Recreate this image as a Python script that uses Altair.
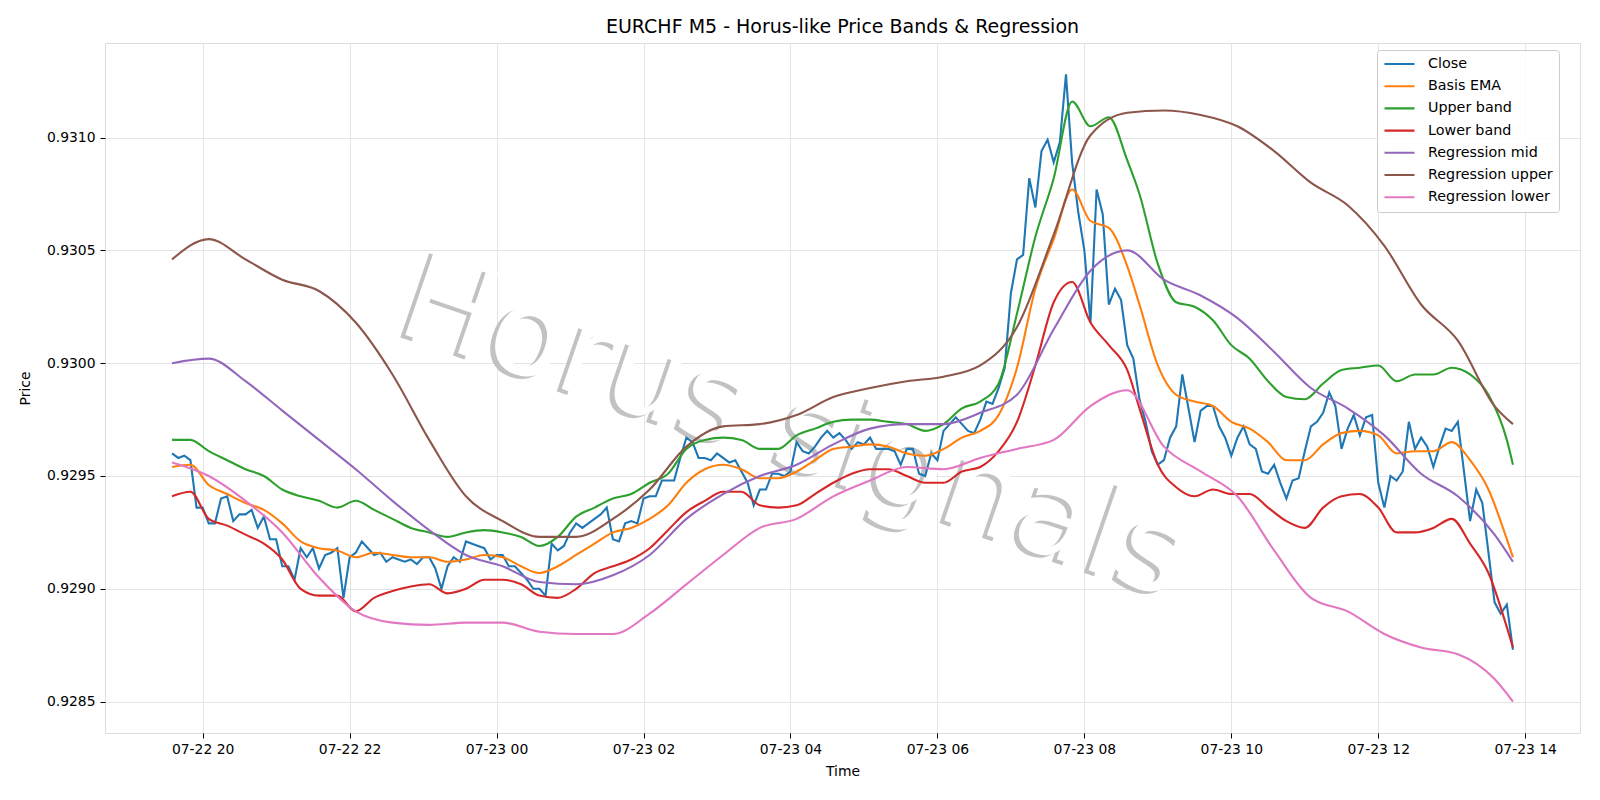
import altair as alt
import pandas as pd

TITLE = "EURCHF M5 - Horus-like Price Bands & Regression"
X_TITLE = "Time"
Y_TITLE = "Price"
WATERMARK = "Horus signals"
START = "2025-07-22 19:35"
STEP_MINUTES = 5

SERIES = ["Close", "Basis EMA", "Upper band", "Lower band",
          "Regression mid", "Regression upper", "Regression lower"]
COLORS = ["#1f77b4", "#ff7f0e", "#2ca02c", "#d62728",
          "#9467bd", "#8c564b", "#e377c2"]

Y_TICKS = [0.9285, 0.9290, 0.9295, 0.9300, 0.9305, 0.9310]
X_TICKS = ["2025-07-22 20:00", "2025-07-22 22:00", "2025-07-23 00:00",
           "2025-07-23 02:00", "2025-07-23 04:00", "2025-07-23 06:00",
           "2025-07-23 08:00", "2025-07-23 10:00", "2025-07-23 12:00",
           "2025-07-23 14:00"]

# Close: one value every 5 minutes (index 0 .. 219)
close = [
    0.92960, 0.92958, 0.92959, 0.92957, 0.92936, 0.92936, 0.92929, 0.92929, 0.92940, 0.92941, 0.92930, 0.92933,
    0.92933, 0.92935, 0.92927, 0.92932, 0.92922, 0.92922, 0.92910, 0.92910, 0.92904, 0.92918, 0.92914, 0.92918,
    0.92909, 0.92915, 0.92916, 0.92918, 0.92896, 0.92914, 0.92916, 0.92921, 0.92918, 0.92915, 0.92916, 0.92912,
    0.92914, 0.92913, 0.92912, 0.92913, 0.92911, 0.92914, 0.92914, 0.92909, 0.92900, 0.92910, 0.92914, 0.92912,
    0.92921, 0.92920, 0.92919, 0.92918, 0.92913, 0.92915, 0.92915, 0.92910, 0.92910, 0.92907, 0.92904, 0.92900,
    0.92900, 0.92897, 0.92920, 0.92917, 0.92919, 0.92925, 0.92929, 0.92927, 0.92929, 0.92931, 0.92933, 0.92936,
    0.92922, 0.92921, 0.92929, 0.92930, 0.92929, 0.92940, 0.92941, 0.92941, 0.92948, 0.92948, 0.92948, 0.92958,
    0.92967, 0.92965, 0.92958, 0.92958, 0.92957, 0.92960, 0.92958, 0.92956, 0.92957, 0.92952, 0.92947, 0.92937,
    0.92944, 0.92944, 0.92951, 0.92951, 0.92950, 0.92952, 0.92965, 0.92961, 0.92960, 0.92963, 0.92967, 0.92970,
    0.92967, 0.92969, 0.92966, 0.92962, 0.92965, 0.92964, 0.92967, 0.92962, 0.92962, 0.92962, 0.92961, 0.92955,
    0.92962, 0.92962, 0.92951, 0.92950, 0.92960, 0.92957, 0.92970, 0.92973, 0.92976, 0.92973, 0.92970, 0.92969,
    0.92975, 0.92983, 0.92982, 0.92989, 0.92998, 0.93031, 0.93046, 0.93048, 0.93082, 0.93069, 0.93094, 0.93099,
    0.93089, 0.93098, 0.93128, 0.93089, 0.93067, 0.93050, 0.93018, 0.93077, 0.93066, 0.93026, 0.93033, 0.93028,
    0.93008, 0.93002, 0.92984, 0.92974, 0.92961, 0.92955, 0.92957, 0.92967, 0.92972, 0.92995, 0.92980, 0.92965,
    0.92979, 0.92981, 0.92981, 0.92972, 0.92967, 0.92959, 0.92967, 0.92972, 0.92964, 0.92962, 0.92952, 0.92951,
    0.92955, 0.92947, 0.92940, 0.92948, 0.92949, 0.92961, 0.92972, 0.92974, 0.92978, 0.92987, 0.92981, 0.92962,
    0.92971, 0.92977, 0.92968, 0.92976, 0.92977, 0.92947, 0.92936, 0.92950, 0.92948, 0.92952, 0.92974, 0.92962,
    0.92967, 0.92963, 0.92954, 0.92963, 0.92971, 0.92970, 0.92974, 0.92952, 0.92930, 0.92944, 0.92938, 0.92916,
    0.92894, 0.92889, 0.92893, 0.92873,
]

# Bands: read every 15 minutes (bar index of each reading)
band_idx = list(range(0, 157, 3)) + list(range(158, 219, 3)) + [219]

ema = [
    0.92954, 0.92955, 0.92946, 0.92942, 0.92938, 0.92935, 0.92929, 0.92921, 0.92918, 0.92917, 0.92914, 0.92916, 0.92915,
    0.92914, 0.92914, 0.92912, 0.92913, 0.92915, 0.92914, 0.92910, 0.92907, 0.92910, 0.92915, 0.92920, 0.92925, 0.92927,
    0.92931, 0.92937, 0.92947, 0.92953, 0.92955, 0.92953, 0.92949, 0.92949, 0.92952, 0.92957, 0.92962, 0.92963, 0.92964,
    0.92963, 0.92960, 0.92959, 0.92962, 0.92967, 0.92970, 0.92977, 0.92998, 0.93033, 0.93055, 0.93077, 0.93063, 0.93060, 0.93043,
    0.93026, 0.92999, 0.92986, 0.92983, 0.92981, 0.92974, 0.92971, 0.92965, 0.92957, 0.92957, 0.92964, 0.92969, 0.92970,
    0.92968, 0.92960, 0.92961, 0.92961, 0.92965, 0.92957, 0.92944, 0.92922,
    0.92914,
]

upper = [
    0.92966, 0.92966, 0.92961, 0.92957, 0.92953, 0.92950, 0.92944, 0.92941, 0.92939, 0.92936, 0.92939, 0.92935, 0.92931,
    0.92927, 0.92925, 0.92923, 0.92925, 0.92926, 0.92925, 0.92923, 0.92919, 0.92923, 0.92932, 0.92936, 0.92940, 0.92942,
    0.92947, 0.92951, 0.92962, 0.92966, 0.92967, 0.92966, 0.92962, 0.92962, 0.92968, 0.92971, 0.92974, 0.92975, 0.92975,
    0.92974, 0.92973, 0.92970, 0.92973, 0.92980, 0.92983, 0.92991, 0.93022, 0.93056, 0.93082, 0.93116, 0.93105, 0.93109, 0.93090,
    0.93075, 0.93044, 0.93027, 0.93025, 0.93019, 0.93008, 0.93002, 0.92992, 0.92985, 0.92984, 0.92991, 0.92997, 0.92998,
    0.92999, 0.92992, 0.92995, 0.92995, 0.92998, 0.92995, 0.92986, 0.92966,
    0.92955,
]

lower = [
    0.92941, 0.92943, 0.92931, 0.92928, 0.92924, 0.92920, 0.92913, 0.92900, 0.92897, 0.92897, 0.92890, 0.92896, 0.92899,
    0.92901, 0.92902, 0.92898, 0.92900, 0.92904, 0.92904, 0.92902, 0.92897, 0.92896, 0.92900, 0.92907, 0.92910, 0.92913,
    0.92918, 0.92926, 0.92934, 0.92939, 0.92943, 0.92943, 0.92937, 0.92936, 0.92937, 0.92942, 0.92947, 0.92951, 0.92953,
    0.92953, 0.92950, 0.92947, 0.92947, 0.92952, 0.92954, 0.92961, 0.92974, 0.92999, 0.93027, 0.93036, 0.93018, 0.93008, 0.92997,
    0.92980, 0.92955, 0.92945, 0.92941, 0.92944, 0.92942, 0.92942, 0.92936, 0.92930, 0.92927, 0.92936, 0.92941, 0.92942,
    0.92936, 0.92925, 0.92925, 0.92927, 0.92931, 0.92920, 0.92907, 0.92883,
    0.92874,
]

# Regression lines: read every 30 minutes
reg_idx = list(range(0, 217, 6)) + [219]

reg_mid = [
    0.93000, 0.93002, 0.92992, 0.92979, 0.92966, 0.92953, 0.92939,
    0.92926, 0.92915, 0.92910, 0.92903, 0.92902, 0.92906,
    0.92915, 0.92931, 0.92942, 0.92950, 0.92955, 0.92964, 0.92971,
    0.92973, 0.92973, 0.92978, 0.92986, 0.93015, 0.93041, 0.93050,
    0.93037, 0.93030, 0.93020, 0.93005, 0.92989, 0.92980,
    0.92968, 0.92951, 0.92941, 0.92924, 0.92912,
]

reg_up = [
    0.93046, 0.93055, 0.93046, 0.93037, 0.93032, 0.93018, 0.92995,
    0.92966, 0.92941, 0.92930, 0.92923, 0.92923, 0.92931,
    0.92944, 0.92963, 0.92972, 0.92973, 0.92977, 0.92985, 0.92989,
    0.92992, 0.92994, 0.92999, 0.93016, 0.93057, 0.93101, 0.93111,
    0.93112, 0.93110, 0.93105, 0.93094, 0.93080, 0.93070,
    0.93052, 0.93026, 0.93010, 0.92981, 0.92973,
]

reg_lo = [
    0.92956, 0.92950, 0.92939, 0.92925, 0.92905, 0.92890, 0.92885,
    0.92884, 0.92885, 0.92885, 0.92881, 0.92880, 0.92880,
    0.92889, 0.92902, 0.92915, 0.92927, 0.92931, 0.92941, 0.92948,
    0.92954, 0.92953, 0.92958, 0.92962, 0.92966, 0.92981, 0.92988,
    0.92963, 0.92952, 0.92941, 0.92917, 0.92896, 0.92890,
    0.92880, 0.92874, 0.92871, 0.92860, 0.92850,
]

# ---------------------------------------------------------------------------
t0 = pd.Timestamp(START, tz="UTC")


def stamp(i):
    return (t0 + pd.Timedelta(minutes=STEP_MINUTES * i)).strftime("%Y-%m-%dT%H:%M:%SZ")


def ms(t):
    return int(t.timestamp() * 1000)


parts = [
    ("Close", list(range(len(close))), close),
    ("Basis EMA", band_idx, ema),
    ("Upper band", band_idx, upper),
    ("Lower band", band_idx, lower),
    ("Regression mid", reg_idx, reg_mid),
    ("Regression upper", reg_idx, reg_up),
    ("Regression lower", reg_idx, reg_lo),
]
rows = []
for name, idx, vals in parts:
    assert len(idx) == len(vals), (name, len(idx), len(vals))
    for i, v in zip(idx, vals):
        rows.append({"series": name, "time": stamp(i), "price": v})
df = pd.DataFrame(rows)

# matplotlib-like 5% margins
span_min = STEP_MINUTES * (len(close) - 1)
margin = pd.Timedelta(minutes=0.05 * span_min)
x_dom = [ms(t0 - margin), ms(t0 + pd.Timedelta(minutes=span_min) + margin)]
y_min, y_max = df["price"].min(), df["price"].max()
y_pad = 0.05 * (y_max - y_min)
y_dom = [y_min - y_pad, y_max + y_pad]

W, H = 1475, 690
FONT = "DejaVu Sans"
axis_common = dict(
    labelFont=FONT, labelFontSize=13.9, labelColor="black",
    titleFont=FONT, titleFontSize=13.9, titleFontWeight="normal", titleColor="black",
    tickColor="black", tickSize=5, tickWidth=1,
    gridColor="#e4e4e4", gridWidth=1, domain=False,
    labelOverlap=False, labelFlush=False,
)
x_axis = alt.Axis(values=[ms(pd.Timestamp(t, tz="UTC")) for t in X_TICKS],
                  labelExpr="utcFormat(datum.value, '%m-%d %H')",
                  labelPadding=4, titlePadding=9, **axis_common)
y_axis = alt.Axis(values=Y_TICKS, format=".4f", labelPadding=5,
                  titlePadding=14, **axis_common)

legend = alt.Legend(
    title=None, orient="none", legendX=1272, legendY=7,
    symbolType="stroke", symbolSize=900, symbolStrokeWidth=2.1,
    labelFont=FONT, labelFontSize=14.3, labelColor="black", labelOffset=12,
    labelExpr="datum.label + '\u00a0\u00a0\u00a0'",
    rowPadding=6.2, clipHeight=16, padding=6,
    strokeColor="#cccccc", fillColor="rgba(255,255,255,0.85)", cornerRadius=3,
)

base = alt.Chart(df).mark_line(strokeWidth=2.1).encode(
    x=alt.X("time:T", title=X_TITLE,
            scale=alt.Scale(type="utc", domain=x_dom, nice=False), axis=x_axis),
    y=alt.Y("price:Q", title=Y_TITLE,
            scale=alt.Scale(domain=y_dom, nice=False, zero=False), axis=y_axis),
    color=alt.Color("series:N", scale=alt.Scale(domain=SERIES, range=COLORS),
                    legend=legend),
)
line_layers = []
for name in SERIES:
    interp = "linear" if name == "Close" else "monotone"
    line_layers.append(
        base.mark_line(strokeWidth=2.1, interpolate=interp)
        .transform_filter(alt.datum.series == name)
    )

wm_df = pd.DataFrame({"label": [WATERMARK]})
wm_shadow = alt.Chart(wm_df).mark_text(
    font=FONT, fontSize=122, angle=19, align="left", baseline="alphabetic",
    color="#c2c2c2", dx=-4, dy=4,
).encode(text="label:N", x=alt.value(289), y=alt.value(288))
wm_front = alt.Chart(wm_df).mark_text(
    font=FONT, fontSize=122, angle=19, align="left", baseline="alphabetic",
    color="white",
).encode(text="label:N", x=alt.value(289), y=alt.value(288))

title_df = pd.DataFrame({"label": [TITLE]})
title_mark = alt.Chart(title_df).mark_text(
    font=FONT, fontSize=19, align="center", baseline="alphabetic", color="black",
).encode(text="label:N", x=alt.value(W / 2), y=alt.value(-10.5))

chart = alt.layer(wm_shadow, wm_front, *line_layers, title_mark).properties(
    width=W, height=H,
    padding={"left": 105, "top": 43, "right": 20, "bottom": 67},
    autosize=alt.AutoSizeParams(type="none"),
    background="white",
).configure_view(stroke="black", strokeWidth=1.1).configure(font=FONT)

chart.save("out.html", embed_options={"renderer": "svg", "actions": False})
